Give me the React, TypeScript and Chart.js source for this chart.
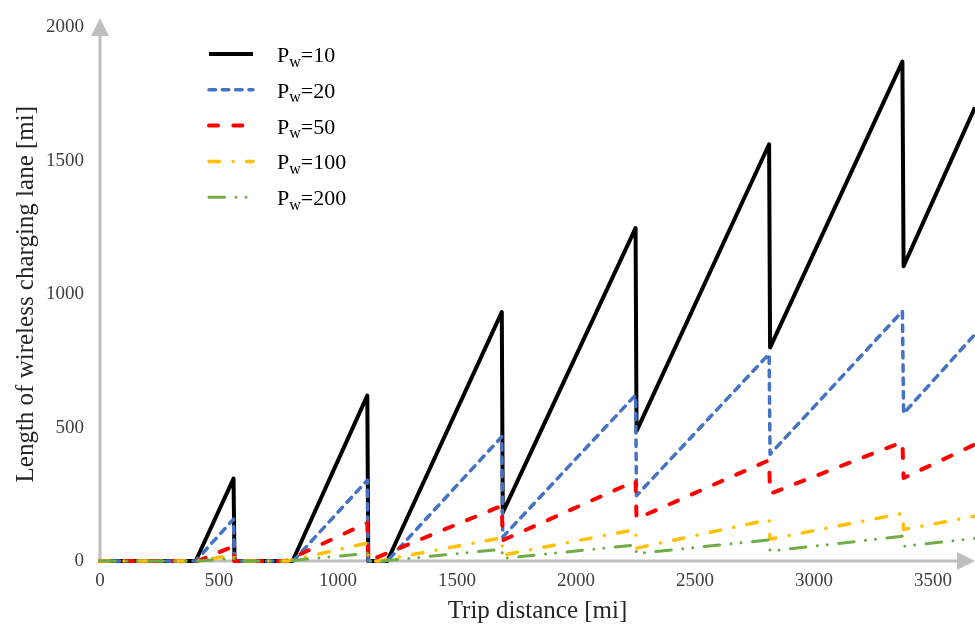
import React, { useEffect, useRef } from "react";
import { Chart, registerables } from "chart.js";

Chart.register(...registerables);

// ---------- data ----------
const xTicks = [0, 500, 1000, 1500, 2000, 2500, 3000, 3500];
const yTicks = [0, 500, 1000, 1500, 2000];
const seriesLabels = ["10", "20", "50", "100", "200"];

const dist10 = [0, 402, 561, 565, 809, 1123, 1127, 1207, 1688, 1692, 2250, 2254, 2811, 2815, 3371, 3376, 3676];
const len10 = [0, 0, 309, 0, 0, 620, 0, 0, 933, 181, 1248, 487, 1562, 800, 1872, 1105, 1700];

const dist20 = [0, 402, 561, 565, 812, 1123, 1127, 1207, 1688, 1692, 2250, 2254, 2811, 2815, 3371, 3376, 3676];
const len20 = [0, 0, 157, 0, 0, 303, 0, 0, 466, 90, 622, 245, 776, 400, 936, 553, 850];

const dist50 = [0, 410, 561, 565, 780, 1123, 1127, 1688, 1692, 2250, 2254, 2811, 2815, 3371, 3376, 3676];
const len50 = [0, 0, 55, 0, 0, 143, 0, 207, 78, 300, 158, 378, 252, 446, 311, 437];

const dist100 = [0, 410, 561, 565, 790, 1123, 1127, 1170, 1688, 1692, 2250, 2254, 2811, 2815, 3371, 3376, 3676];
const len100 = [0, 0, 22, 0, 0, 67, 0, 0, 87, 22, 118, 48, 155, 82, 178, 118, 168];

const dist200 = [0, 410, 561, 565, 790, 1123, 1127, 1190, 1688, 1692, 2250, 2254, 2811, 2815, 3371, 3376, 3676];
const len200 = [0, 0, 10, 0, 0, 29, 0, 0, 44, 10, 60, 28, 79, 37, 93, 55, 85];

const seriesDist = [dist10, dist20, dist50, dist100, dist200];
const seriesLen = [len10, len20, len50, len100, len200];

// ---------- styles ----------
const FONT = "'Liberation Serif', 'Times New Roman', Times, serif";
const styles = [
  { color: "#000000", width: 4, dash: [] as number[], cap: "butt" },
  { color: "#4472C4", width: 3.5, dash: [6.5, 6.8], cap: "round" },
  { color: "#FF0000", width: 4, dash: [9, 15.3], cap: "round" },
  { color: "#FFC000", width: 3.5, dash: [10.5, 13.5, 0.01, 13.5], cap: "round" },
  { color: "#70AD47", width: 3, dash: [15.5, 11.5, 0.01, 10, 0.01, 11.5], cap: "round" },
];

const axisPlugin = {
  id: "axisArrows",
  beforeDatasetsDraw(chart: any) {
    const { ctx, chartArea } = chart;
    const x0 = chartArea.left;
    const y0 = chartArea.bottom;
    const topTip = 18;
    const rightTip = chart.width;
    ctx.save();
    ctx.strokeStyle = "#BFBFBF";
    ctx.fillStyle = "#BFBFBF";
    ctx.lineWidth = 3;
    ctx.beginPath();
    ctx.moveTo(x0, y0 + 1.5);
    ctx.lineTo(x0, topTip + 15);
    ctx.stroke();
    ctx.beginPath();
    ctx.moveTo(x0, topTip);
    ctx.lineTo(x0 - 9, topTip + 18);
    ctx.lineTo(x0 + 9, topTip + 18);
    ctx.closePath();
    ctx.fill();
    ctx.beginPath();
    ctx.moveTo(x0 - 1.5, y0);
    ctx.lineTo(rightTip - 15, y0);
    ctx.stroke();
    ctx.beginPath();
    ctx.moveTo(rightTip, y0);
    ctx.lineTo(rightTip - 18, y0 - 9);
    ctx.lineTo(rightTip - 18, y0 + 9);
    ctx.closePath();
    ctx.fill();
    ctx.restore();
  },
};

const legendPlugin = {
  id: "customLegend",
  afterDatasetsDraw(chart: any) {
    const ctx = chart.ctx;
    ctx.save();
    seriesLabels.forEach((lab, i) => {
      const st = styles[i];
      const y = 54 + i * 35.8;
      ctx.strokeStyle = st.color;
      ctx.lineWidth = st.width;
      ctx.lineCap = st.cap;
      ctx.setLineDash(st.dash);
      ctx.beginPath();
      ctx.moveTo(209, y);
      ctx.lineTo(253, y);
      ctx.stroke();
      ctx.setLineDash([]);
      ctx.fillStyle = "#000000";
      ctx.textBaseline = "alphabetic";
      ctx.textAlign = "left";
      let x = 277;
      ctx.font = `22px ${FONT}`;
      ctx.fillText("P", x, y + 8);
      x += ctx.measureText("P").width;
      ctx.font = `16px ${FONT}`;
      ctx.fillText("w", x, y + 12.5);
      x += ctx.measureText("w").width;
      ctx.font = `22px ${FONT}`;
      ctx.fillText("=" + lab, x, y + 8);
    });
    ctx.restore();
  },
};

export default function App() {
  const ref = useRef<HTMLCanvasElement>(null);
  useEffect(() => {
    document.body.style.margin = "0";
    const datasets = seriesLabels.map((lab, i) => ({
      label: "Pw=" + lab,
      data: seriesDist[i].map((d, k) => ({ x: d, y: seriesLen[i][k] })),
      borderColor: styles[i].color,
      backgroundColor: styles[i].color,
      borderWidth: styles[i].width,
      borderDash: styles[i].dash,
      borderCapStyle: styles[i].cap as any,
      borderJoinStyle: "round" as any,
      pointRadius: 0,
      tension: 0,
      fill: false,
      clip: false as any,
      order: seriesLabels.length - i,
    }));
    const chart = new Chart(ref.current!, {
      type: "line",
      data: { datasets },
      options: {
        responsive: false,
        animation: false,
        devicePixelRatio: 1,
        layout: { padding: { top: 20, left: 0, right: 0, bottom: 0 } },
        plugins: { legend: { display: false }, tooltip: { enabled: false } },
        scales: {
          x: {
            type: "linear",
            min: 0,
            max: 3676,
            grid: { display: false, drawTicks: false },
            border: { display: false },
            afterBuildTicks: (s: any) => {
              s.ticks = xTicks.map((v) => ({ value: v }));
            },
            afterFit: (s: any) => {
              s.height = 76;
            },
            ticks: {
              autoSkip: false,
              maxRotation: 0,
              padding: 9,
              color: "#404040",
              font: { family: FONT, size: 19 },
              callback: (v: any) => String(v),
            },
            title: {
              display: true,
              text: "Trip distance [mi]",
              color: "#262626",
              font: { family: FONT, size: 25 },
              padding: { top: 0, bottom: 11 },
            },
          },
          y: {
            type: "linear",
            min: 0,
            max: 2000,
            grid: { display: false, drawTicks: false },
            border: { display: false },
            afterBuildTicks: (s: any) => {
              s.ticks = yTicks.map((v) => ({ value: v }));
            },
            afterFit: (s: any) => {
              s.width = 100;
            },
            ticks: {
              autoSkip: false,
              padding: 16,
              color: "#404040",
              font: { family: FONT, size: 19 },
              callback: (v: any) => String(v),
            },
            title: {
              display: true,
              text: "Length of wireless charging lane [mi]",
              color: "#262626",
              font: { family: FONT, size: 25 },
              padding: { top: 11, bottom: 0 },
            },
          },
        },
      } as any,
      plugins: [axisPlugin, legendPlugin],
    });
    return () => chart.destroy();
  }, []);
  return (
    <div style={{ width: 975, height: 637 }}>
      <canvas ref={ref} width={975} height={637} style={{ display: "block" }} />
    </div>
  );
}
